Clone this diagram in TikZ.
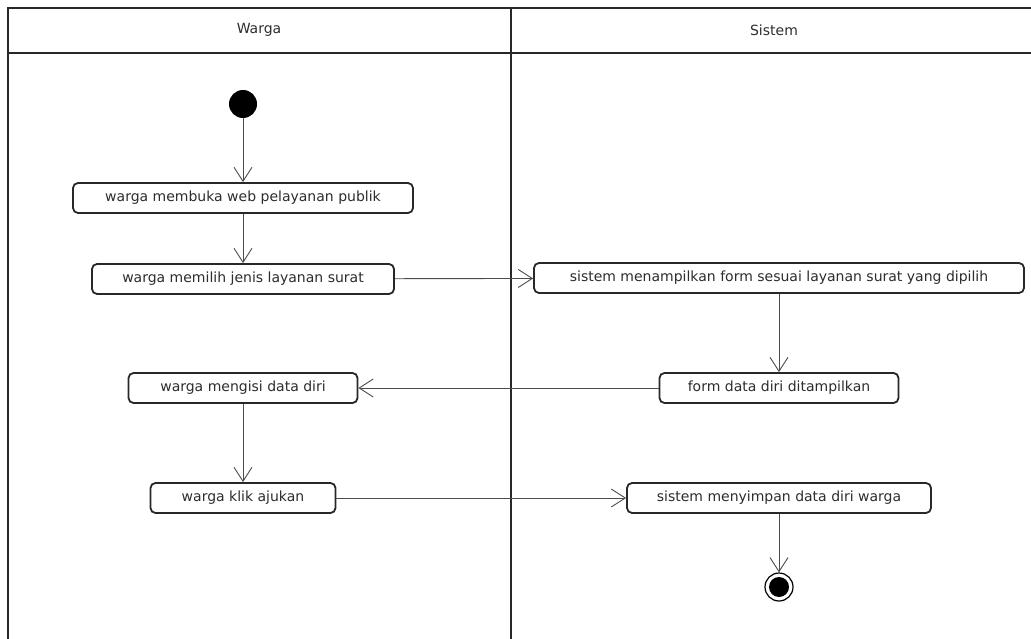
\documentclass[tikz,border=0pt]{standalone}
\usepackage{fontspec}
\setmainfont{DejaVu Sans}
\usepackage{xcolor}
\usetikzlibrary{arrows.meta}
\usetikzlibrary{math}

\definecolor{lanegray}{RGB}{40,40,40}
\definecolor{txtgray}{RGB}{45,45,45}

\tikzset{
  act/.style={draw=lanegray, line width=1.8pt, rounded corners=5pt, fill=white,
    minimum height=30pt, inner sep=0pt, text=txtgray, font=\fontsize{14}{16}\selectfont},
  flow/.style={draw=black!70, line width=0.9pt, -{Straight Barb[length=14pt,width=18pt,line width=0.9pt]}}
}

\begin{document}
\begin{tikzpicture}[x=1pt,y=-1pt]
\tikzmath{
\L=8;      % left edge
\M=511;    % lane divider
\R=1031;   % right edge
\T=8;      % top
\H=53;     % header bottom
\B=639;    % bottom
}
\useasboundingbox (0,0) rectangle (1031,639);

% swimlanes
\draw[lanegray, line width=1.8pt] (\L,\B) -- (\L,\T) -- (\R,\T);
\draw[lanegray, line width=1.8pt] (\L,\H) -- (\R,\H);
\draw[lanegray, line width=2.2pt] (\M,\T) -- (\M,\B);
\node[text=txtgray, font=\fontsize{14}{16}\selectfont] (laneWarga) at (259,30) {Warga};
\node[text=txtgray, font=\fontsize{14}{16}\selectfont] (laneSistem) at (774,30) {Sistem};

% activities
\node[circle, fill=black, minimum size=28pt, inner sep=0pt] (start) at (243,104) {};
\node[act, minimum width=340pt] (buka) at (243,198) {warga membuka web pelayanan publik};
\node[act, minimum width=302pt] (pilih) at (243,279) {warga memilih jenis layanan surat};
\node[act, minimum width=490pt] (tampil) at (779,278) {sistem menampilkan form sesuai layanan surat yang dipilih};
\node[act, minimum width=239pt] (form) at (779,388) {form data diri ditampilkan};
\node[act, minimum width=229pt] (isi) at (243,388) {warga mengisi data diri};
\node[act, minimum width=185pt] (ajukan) at (243,498) {warga klik ajukan};
\node[act, minimum width=304pt] (simpan) at (779,498) {sistem menyimpan data diri warga};
\node[circle, draw=black, line width=1.2pt, minimum size=28pt, inner sep=0pt] (end) at (779,587) {};
\fill[black] (end.center) circle (10);

% transitions
\draw[flow] (start) -- (buka);
\draw[flow] (buka) -- (pilih);
\draw[flow] (pilih) -- (tampil);
\draw[flow] (tampil) -- (form);
\draw[flow] (form) -- (isi);
\draw[flow] (isi) -- (ajukan);
\draw[flow] (ajukan) -- (simpan);
\draw[flow] (simpan) -- (end);
\end{tikzpicture}
\end{document}
